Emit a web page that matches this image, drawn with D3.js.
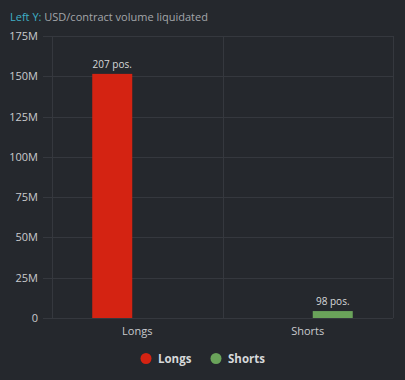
<!DOCTYPE html>
<html><head><meta charset="utf-8">
<script src="https://cdn.jsdelivr.net/npm/d3@7"></script>
<style>
html,body{margin:0;padding:0;background:#25282d;}
svg{display:block;font-family:"Open Sans",Lato,sans-serif;}
</style></head>
<body>
<svg id="c" width="405" height="380"></svg>
<script>
const categories = ["Longs", "Shorts"];
const seriesNames = ["Longs", "Shorts"];
const seriesColors = ["#d42312", "#6aa35a"];
const longsValues = [151.5e6, null];
const shortsValues = [null, 4.3e6];
const positionLabels = ["207 pos.", "98 pos."];
const yTicks = [0, 25e6, 50e6, 75e6, 100e6, 125e6, 150e6, 175e6];
const yTickLabels = ["0", "25M", "50M", "75M", "100M", "125M", "150M", "175M"];

const svg = d3.select("#c");
const m = {l: 52, r: 12, t: 36, b: 62};
const W = 405, H = 380;
const x = d3.scaleBand().domain(categories).range([m.l, W - m.r]).padding(0);
const xs = d3.scaleBand().domain(seriesNames).range([0, x.bandwidth()]).paddingOuter(0.805).paddingInner(0.2);
const y = d3.scaleLinear().domain([0, 175e6]).range([H - m.b, m.t]);

// title
const t = svg.append("text").attr("x", 10).attr("y", 21).attr("font-size", 11);
t.append("tspan").attr("fill", "#3fb0c6").text("Left Y: ");
t.append("tspan").attr("fill", "#a3a6aa").text("USD/contract volume liquidated");

// horizontal grid
const grid = "#35383e";
svg.append("g").selectAll("line").data(yTicks).join("line")
  .attr("x1", m.l - 9).attr("x2", W - m.r)
  .attr("y1", d => Math.round(y(d)) + 0.5).attr("y2", d => Math.round(y(d)) + 0.5)
  .attr("stroke", grid);
// vertical grid
const vx = [m.l, x("Shorts"), W - m.r];
svg.append("g").selectAll("line").data(vx).join("line")
  .attr("x1", d => Math.round(d) + 0.5).attr("x2", d => Math.round(d) + 0.5)
  .attr("y1", m.t).attr("y2", H - m.b)
  .attr("stroke", grid);

// y labels
svg.append("g").selectAll("text").data(yTicks).join("text")
  .attr("x", 38).attr("y", d => y(d) + 4)
  .attr("text-anchor", "end").attr("font-size", 11).attr("fill", "#c9cbce")
  .text((d, i) => yTickLabels[i]);

// x labels
svg.append("g").selectAll("text").data(categories).join("text")
  .attr("x", d => x(d) + x.bandwidth() / 2).attr("y", H - m.b + 17)
  .attr("text-anchor", "middle").attr("font-size", 11).attr("fill", "#c9cbce")
  .text(d => d);

// bars
const series = [longsValues, shortsValues];
series.forEach((vals, si) => {
  const g = svg.append("g");
  categories.forEach((c, ci) => {
    const v = vals[ci];
    if (v == null) return;
    const bx = x(c) + xs(seriesNames[si]);
    g.append("rect").attr("x", bx).attr("width", xs.bandwidth())
      .attr("y", y(v)).attr("height", y(0) - y(v)).attr("fill", seriesColors[si]);
    g.append("text").attr("x", bx + xs.bandwidth() / 2).attr("y", y(v) - 6)
      .attr("text-anchor", "middle").attr("font-size", 10).attr("fill", "#d6d8da")
      .text(positionLabels[ci]);
  });
});

// legend
const legX = [146, 216];
const lg = svg.append("g");
seriesNames.forEach((s, i) => {
  lg.append("circle").attr("cx", legX[i]).attr("cy", 358.5).attr("r", 5.5).attr("fill", seriesColors[i]);
  lg.append("text").attr("x", legX[i] + 12).attr("y", 362.5).attr("font-size", 11.5)
    .attr("font-weight", "bold").attr("fill", "#d6d8da").text(s);
});
</script>
</body></html>
